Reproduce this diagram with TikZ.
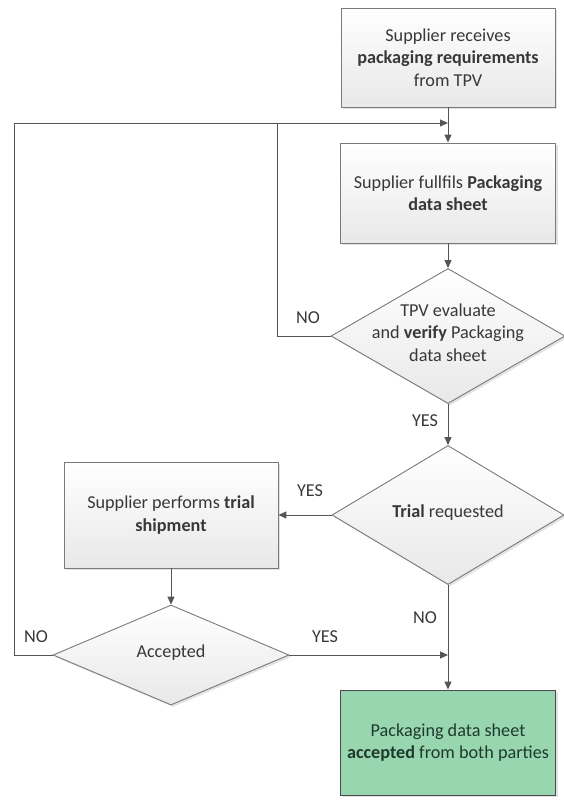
\documentclass[tikz,border=0pt]{standalone}
\usepackage{fontspec}
\setmainfont{Carlito}
\usetikzlibrary{shapes.geometric,arrows.meta,shadows}
\definecolor{linec}{HTML}{555555}
\definecolor{boxc}{HTML}{7A7A7A}
\definecolor{txtc}{HTML}{383838}
\definecolor{greenf}{HTML}{98D6B0}
\definecolor{greent}{HTML}{1F3A2C}
\newcommand{\dtext}[1]{\makebox[0pt]{\raisebox{-0.3em}{\smash{\begin{tabular}[c]{@{}c@{}}#1\end{tabular}}}}}
\begin{document}
\begin{tikzpicture}[x=1pt,y=-1pt,
  font=\fontsize{18.2}{22.5}\selectfont, text=txtc,
  procbox/.style={draw=boxc, line width=0.9pt, top color=white, bottom color=gray!18,
    drop shadow={shadow xshift=2pt, shadow yshift=-2pt, fill=gray!45},
    align=center, inner sep=0pt},
  decbox/.style={diamond, draw=boxc, line width=0.9pt, top color=white, bottom color=gray!18,
    drop shadow={shadow xshift=2pt, shadow yshift=-2pt, fill=gray!45},
    inner sep=0pt, align=center},
  endbox/.style={draw=boxc!60!black, line width=0.9pt, fill=greenf, text=greent,
    drop shadow={shadow xshift=2pt, shadow yshift=-2pt, fill=gray!45},
    align=center, inner sep=0pt},
  conn/.style={draw=linec, line width=1pt, -{Triangle[length=8pt,width=7pt]}},
  plain/.style={draw=linec, line width=1pt},
  lab/.style={text=txtc, inner sep=0pt}]
\useasboundingbox (0,0) rectangle (563,803);

\node[procbox, minimum width=214, minimum height=99] (b1) at (448,57.5)
  {Supplier receives\\\textbf{packaging requirements}\\from TPV};
\node[procbox, minimum width=215, minimum height=100] (b2) at (448,193)
  {Supplier fullfils \textbf{Packaging}\\\textbf{data sheet}};
\node[decbox, minimum width=234, minimum height=135] (d1) at (448,336)
  {\dtext{TPV evaluate\\and \textbf{verify} Packaging\\data sheet}};
\node[decbox, minimum width=232, minimum height=139] (d2) at (448,515)
  {\dtext{\textbf{Trial} requested}};
\node[procbox, minimum width=214, minimum height=106] (b3) at (171,515)
  {Supplier performs \textbf{trial}\\\textbf{shipment}};
\node[decbox, minimum width=236, minimum height=100] (d3) at (171,655)
  {\dtext{Accepted}};
\node[endbox, minimum width=215, minimum height=105] (b4) at (448,742.5)
  {Packaging data sheet\\\textbf{accepted} from both parties};

\coordinate (top) at (448,123);
\coordinate (join) at (448,655);
\coordinate (l1) at (277,123);

\draw[plain] (b1.south) -- (top);
\draw[conn] (top) -- (b2.north);
\draw[conn] (b2.south) -- (d1.north);
\draw[conn] (d1.south) -- (d2.north);
\draw[conn] (d2.west) -- (b3.east);
\draw[conn] (b3.south) -- (d3.north);
\draw[conn] (d2.south) -- (b4.north);
\draw[conn] (d3.east) -- (join);
\draw[conn] (d3.west) -| (14,123) -- (top);
\draw[plain] (d1.west) -| (l1);

\node[lab] (n1) at (308,318) {NO};
\node[lab] (y1) at (425,421) {YES};
\node[lab] (y2) at (310,491) {YES};
\node[lab] (n2) at (425,618) {NO};
\node[lab] (n3) at (36,637) {NO};
\node[lab] (y3) at (325,637) {YES};
\end{tikzpicture}
\end{document}
